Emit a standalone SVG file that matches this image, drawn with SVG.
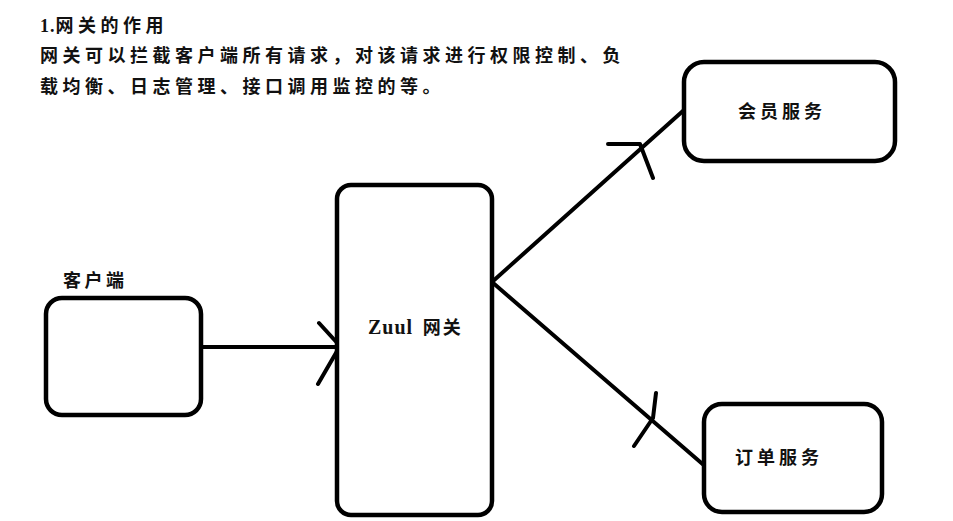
<svg xmlns="http://www.w3.org/2000/svg" width="953" height="521" viewBox="0 0 953 521">
<style>
.box{fill:#fff;stroke:#000;stroke-width:4.5}
.ln{fill:none;stroke:#000;stroke-width:4;stroke-linecap:round;stroke-linejoin:round}
.t{font-family:"Liberation Serif","Noto Sans CJK SC",serif;font-size:18px;font-weight:bold;fill:#111;letter-spacing:4.5px}
</style>
<rect width="953" height="521" fill="#fff"/>
<g id="description">
<text class="t" x="40" y="32"><tspan style="letter-spacing:1px">1.</tspan>网关的作用</text>
<text class="t" x="40" y="62">网关可以拦截客户端所有请求，对该请求进行权限控制、负</text>
<text class="t" x="40" y="93">载均衡、日志管理、接口调用监控的等。</text>
</g>
<g id="connectors">
<path class="ln" d="M201 347 L340 347 M319 323 L340 346 L318 384"/>
<path class="ln" d="M492 282 L684 110 M608 144 L640 144 L653 178"/>
<path class="ln" d="M492 282 L706 467 M656 393 L653 418 L634 446"/>
</g>
<g id="client">
<text class="t" x="63" y="287" style="letter-spacing:3.5px">客户端</text>
<rect class="box" x="46" y="298" width="155" height="117" rx="16"/>
</g>
<g id="gateway">
<rect class="box" x="337" y="185" width="155" height="330" rx="14"/>
<text class="t" x="368" y="334" style="letter-spacing:0"><tspan style="font-size:20px;letter-spacing:1px">Zuul</tspan> <tspan dx="5" style="letter-spacing:2px">网关</tspan></text>
</g>
<g id="member">
<rect class="box" x="684" y="62" width="211" height="99" rx="20"/>
<text class="t" x="738" y="118" style="letter-spacing:4px">会员服务</text>
</g>
<g id="order">
<rect class="box" x="704" y="404" width="178" height="108" rx="18"/>
<text class="t" x="735" y="464" style="letter-spacing:4px">订单服务</text>
</g>
</svg>
